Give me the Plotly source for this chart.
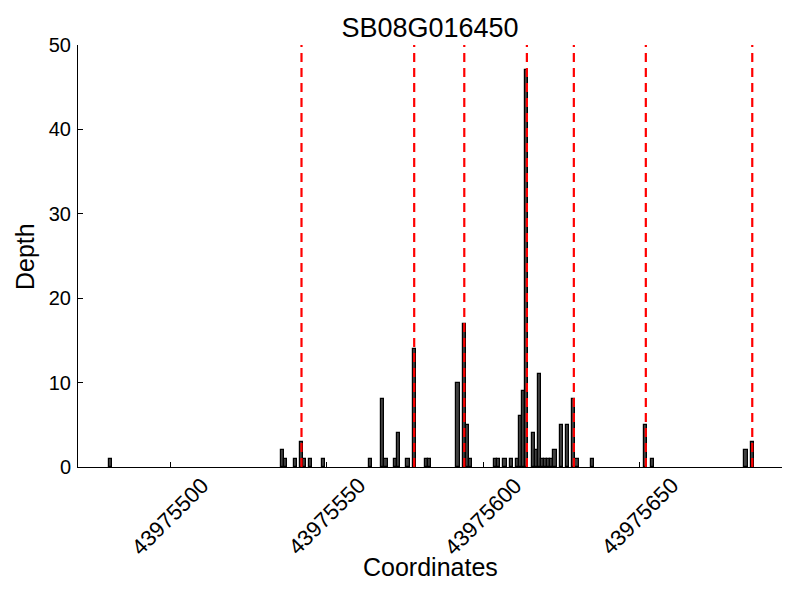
import plotly.graph_objects as go

title_text = "SB08G016450"
coordinates = [43975481, 43975536, 43975537, 43975540, 43975542, 43975543, 43975545,
               43975549, 43975564, 43975568, 43975569, 43975572, 43975573, 43975576,
               43975578, 43975582, 43975583, 43975592, 43975594, 43975595, 43975596,
               43975604, 43975605, 43975607, 43975609, 43975611, 43975612, 43975613,
               43975614, 43975616, 43975617, 43975618, 43975619, 43975620, 43975621,
               43975622, 43975623, 43975625, 43975627, 43975629, 43975630, 43975635,
               43975652, 43975654, 43975684, 43975686]
depth = [1, 2, 1, 1, 3, 1, 1,
         1, 1, 8, 1, 1, 4, 1,
         14, 1, 1, 10, 17, 5, 1,
         1, 1, 1, 1, 1, 6, 9,
         47, 4, 2, 11, 1, 1, 1,
         1, 2, 5, 5, 8, 1, 1,
         5, 1, 2, 3]
junctions = [43975542, 43975578, 43975594, 43975614, 43975629, 43975652, 43975686]
x_ticks = [43975500, 43975550, 43975600, 43975650]
y_ticks = [0, 10, 20, 30, 40, 50]
x_range = [43975470.6, 43975695.5]
y_range = [0, 50]

FONT = "Liberation Sans, Arial, sans-serif"

# page body has an 8px margin; figure is sized/offset to compensate
W, H = 792, 592

fig = go.Figure()
fig.add_trace(go.Bar(
    x=coordinates, y=depth, width=1,
    marker=dict(color="#404040", line=dict(color="black", width=1.2)),
    showlegend=False,
))

for j in junctions:
    fig.add_shape(type="line", xref="x", yref="paper", x0=j, x1=j, y0=0, y1=1,
                  line=dict(color="red", width=2.2, dash="9px,6px"), layer="above")

for t in x_ticks:
    fig.add_annotation(x=t, xref="x", y=0, yref="paper", yshift=-3,
                       text=str(t), showarrow=False, textangle=-45,
                       xanchor="center", yanchor="top",
                       font=dict(family=FONT, size=22, color="black"))

fig.add_annotation(x=0.5, xref="paper", y=-0.237, yref="paper", text="Coordinates",
                   showarrow=False, xanchor="center", yanchor="middle",
                   font=dict(family=FONT, size=25, color="black"))
fig.add_annotation(x=-0.0753, xref="paper", y=0.5, yref="paper", text="Depth",
                   showarrow=False, textangle=-90, xanchor="center", yanchor="middle",
                   font=dict(family=FONT, size=25, color="black"))

fig.update_layout(
    width=W, height=H,
    margin=dict(l=70, r=18, t=37, b=133),
    paper_bgcolor="white", plot_bgcolor="white",
    title=dict(text=title_text, x=0.5, xref="paper", xanchor="center",
               y=1 - 20 / H, yref="container", yanchor="middle",
               font=dict(family=FONT, size=27, color="black")),
    font=dict(family=FONT, color="black"),
    bargap=0,
)
fig.update_xaxes(range=x_range, tickvals=x_ticks, showticklabels=False,
                 ticks="inside", ticklen=5, tickcolor="black",
                 showline=True, linecolor="black", linewidth=1,
                 showgrid=False, zeroline=False)
fig.update_yaxes(range=y_range, tickvals=y_ticks, ticks="inside", ticklen=5,
                 tickcolor="black", tickfont=dict(family=FONT, size=20, color="black"),
                 showline=True, linecolor="black", linewidth=1,
                 showgrid=False, zeroline=False, ticklabelstandoff=2)

fig.write_html("out.html")
